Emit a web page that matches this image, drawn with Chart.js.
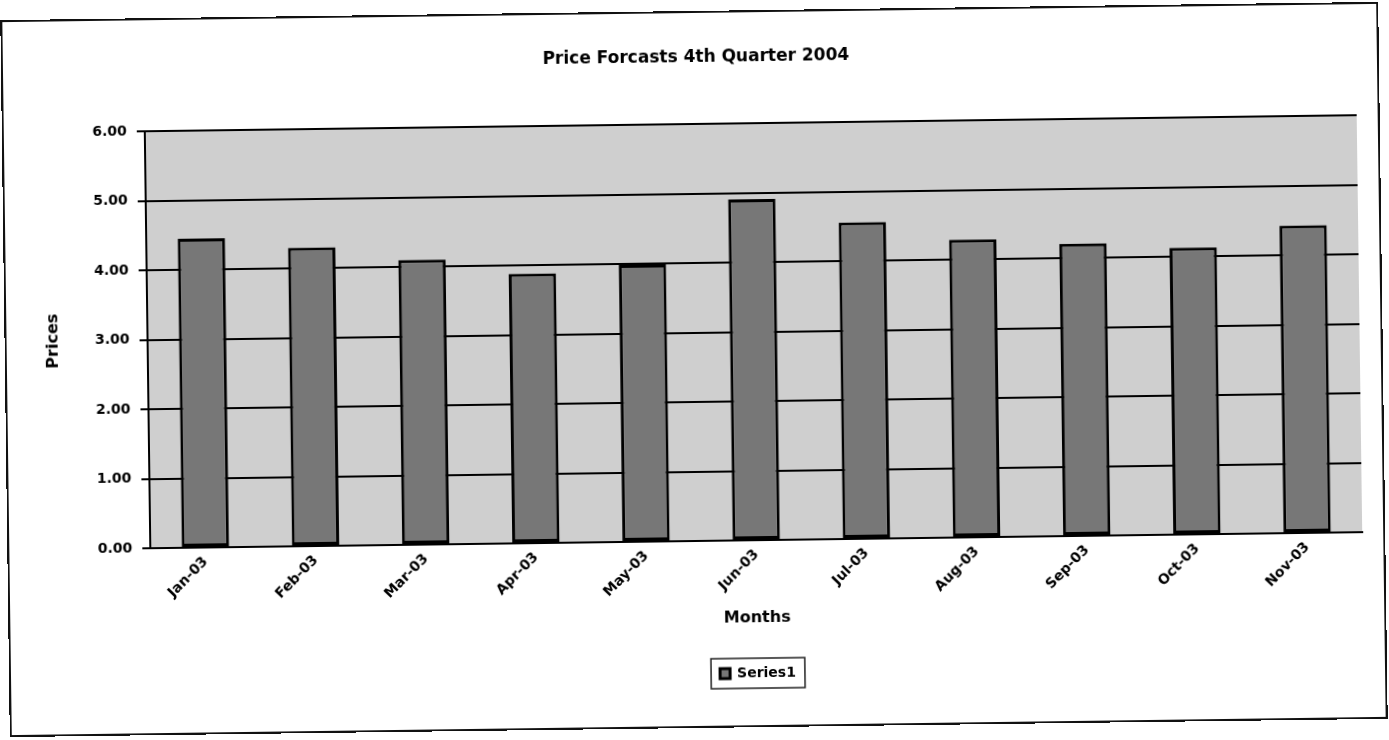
<!DOCTYPE html>
<html>
<head>
<meta charset="utf-8">
<title>Price Forcasts 4th Quarter 2004</title>
<script src="https://cdn.jsdelivr.net/npm/chart.js@4.4.1/dist/chart.umd.min.js"></script>
<style>
    html, body { margin: 0; padding: 0; background: #fff; overflow: hidden; }
    #page {
        position: absolute; left: 0; top: 0; width: 1389px; height: 740px;
        transform: rotate(-0.76deg); transform-origin: 694px 370px;
    }
    #frame {
        position: absolute; left: 5px; top: 11px; width: 1378px; height: 717px;
        box-sizing: border-box; border: 2px solid #111; pointer-events: none;
    }
    canvas { position: absolute; left: 0; top: 0; }
</style>
</head>
<body>
<div id="page">
    <canvas id="price-chart" width="1389" height="740"></canvas>
    <div id="frame"></div>
</div>
<script>
// data
const months = ["Jan-03", "Feb-03", "Mar-03", "Apr-03", "May-03", "Jun-03",
                "Jul-03", "Aug-03", "Sep-03", "Oct-03", "Nov-03"];
const prices = [4.45, 4.30, 4.10, 3.88, 3.99, 4.91, 4.56, 4.29, 4.21, 4.13, 4.43];
const priceTicks = [0, 1, 2, 3, 4, 5, 6];
const seriesName = "Series1";

const FONT = "'DejaVu Sans', Verdana, sans-serif";

// grey plot area like the Excel chart
const plotBackground = {
    id: "plotBackground",
    beforeDraw(chart) {
        const { ctx, chartArea: a } = chart;
        ctx.save();
        ctx.fillStyle = "#cfcfcf";
        ctx.fillRect(a.left, a.top, a.right - a.left, a.bottom - a.top);
        ctx.restore();
    }
};

// box round the legend
const legendFrame = {
    id: "legendFrame",
    afterDraw(chart) {
        const box = chart.legend && chart.legend.legendHitBoxes[0];
        if (!box) return;
        const ctx = chart.ctx;
        ctx.save();
        ctx.strokeStyle = "#222";
        ctx.lineWidth = 1.5;
        ctx.strokeRect(box.left - 9, box.top - 8, box.width + 18, box.height + 16);
        ctx.restore();
    }
};

const ctx = document.getElementById("price-chart").getContext("2d");
window.priceChart = new Chart(ctx, {
    type: "bar",
    data: {
        labels: months,
        datasets: [{
            label: seriesName,
            data: prices,
            backgroundColor: "#777777",
            borderColor: "#000000",
            borderWidth: 3,
            borderSkipped: false,
            categoryPercentage: 1.0,
            barPercentage: 0.43
        }]
    },
    options: {
        responsive: false,
        animation: false,
        devicePixelRatio: 1,
        layout: { padding: { left: 40, right: 29, top: 11, bottom: 49 } },
        plugins: {
            title: {
                display: true,
                text: "Price Forcasts 4th Quarter 2004",
                color: "#000",
                font: { family: FONT, size: 17, weight: "bold" },
                padding: { top: 36, bottom: 57 }
            },
            legend: {
                position: "bottom",
                fullSize: false,
                labels: {
                    color: "#000",
                    font: { family: FONT, size: 14, weight: "bold" },
                    boxWidth: 10,
                    boxHeight: 10,
                    padding: 37
                }
            },
            tooltip: { enabled: false }
        },
        scales: {
            x: {
                grid: { display: false, drawTicks: false },
                border: { display: true, color: "#000", width: 2 },
                ticks: {
                    color: "#000",
                    font: { family: FONT, size: 14, weight: "bold" },
                    minRotation: 45,
                    maxRotation: 45,
                    padding: 6
                },
                title: {
                    display: true,
                    text: "Months",
                    color: "#000",
                    font: { family: FONT, size: 16, weight: "bold" },
                    padding: { top: 2, bottom: 2 }
                },
                afterFit: (scale) => { scale.height = 89; }
            },
            y: {
                min: 0,
                max: 6,
                afterBuildTicks: (scale) => {
                    scale.ticks = priceTicks.map(v => ({ value: v }));
                },
                grid: { color: "#000", lineWidth: 2, tickLength: 8 },
                border: { color: "#000", width: 2 },
                ticks: {
                    color: "#000",
                    font: { family: FONT, size: 14, weight: "bold" },
                    padding: 10,
                    callback: (v) => Number(v).toFixed(2)
                },
                title: {
                    display: true,
                    text: "Prices",
                    color: "#000",
                    font: { family: FONT, size: 16, weight: "bold" },
                    padding: { top: 4, bottom: 4 }
                },
                afterFit: (scale) => { scale.width = 108; }
            }
        }
    },
    plugins: [plotBackground, legendFrame]
});
</script>
</body>
</html>
